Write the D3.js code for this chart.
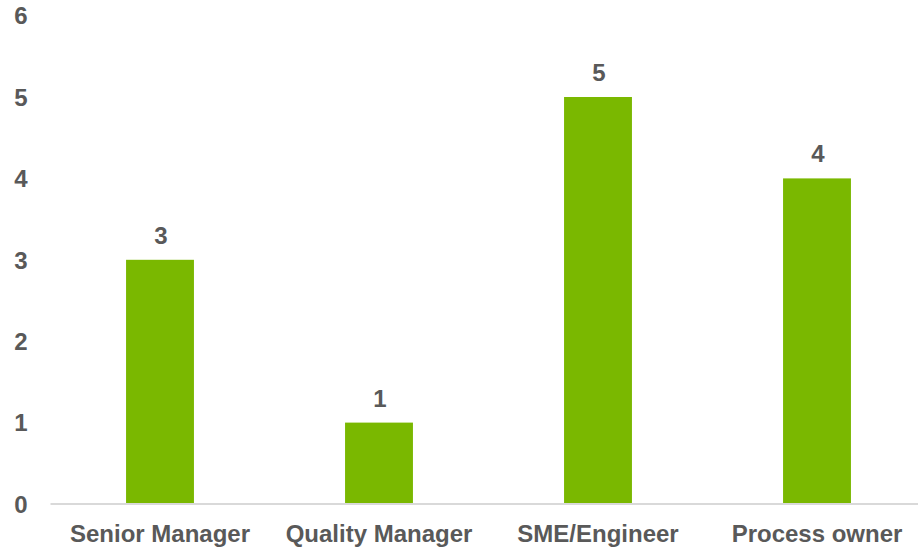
<!DOCTYPE html>
<html>
<head>
<meta charset="utf-8">
<script src="https://cdn.jsdelivr.net/npm/d3@7/dist/d3.min.js"></script>
<style>
  html, body { margin: 0; padding: 0; background: #fff; overflow: hidden; }
  svg { display: block; }
  text { font-family: "Liberation Sans", Arial, sans-serif; font-weight: bold; fill: #595959; }
</style>
</head>
<body>
<svg id="chart" width="918" height="547"></svg>
<script>
// Respondent roles and counts
const categories = ["Senior Manager", "Quality Manager", "SME/Engineer", "Process owner"];
const values = [3, 1, 5, 4];
const yTicks = [0, 1, 2, 3, 4, 5, 6];

const svg = d3.select("#chart");
const left = 50.5, step = 219;
const x = d3.scaleBand()
  .domain(categories)
  .range([left, left + step * categories.length])
  .paddingInner(0.69)
  .paddingOuter(0.345);
const y = d3.scaleLinear().domain([0, 6]).range([504, 15.6]);

// y tick labels
svg.append("g").selectAll("text")
  .data(yTicks)
  .enter().append("text")
  .attr("x", 21)
  .attr("y", d => y(d))
  .attr("dy", "0.37em")
  .attr("text-anchor", "middle")
  .style("font-size", "24px")
  .text(d => d);

// bars
svg.append("g").selectAll("rect")
  .data(values)
  .enter().append("rect")
  .attr("x", (d, i) => x(categories[i]))
  .attr("width", x.bandwidth())
  .attr("y", d => y(d))
  .attr("height", d => y(0) - y(d))
  .attr("fill", "#7AB800");

// baseline
svg.append("line")
  .attr("x1", left).attr("x2", left + step * categories.length)
  .attr("y1", y(0)).attr("y2", y(0))
  .attr("stroke", "#d9d9d9").attr("stroke-width", 2);

// value labels
svg.append("g").selectAll("text")
  .data(values)
  .enter().append("text")
  .attr("x", (d, i) => x(categories[i]) + x.bandwidth() / 2 + 1)
  .attr("y", d => y(d) - 16)
  .attr("text-anchor", "middle")
  .style("font-size", "24px")
  .text(d => d);

// category labels
svg.append("g").selectAll("text")
  .data(categories)
  .enter().append("text")
  .attr("x", d => x(d) + x.bandwidth() / 2)
  .attr("y", 541.5)
  .attr("text-anchor", "middle")
  .style("font-size", "24px")
  .text(d => d);
</script>
</body>
</html>
